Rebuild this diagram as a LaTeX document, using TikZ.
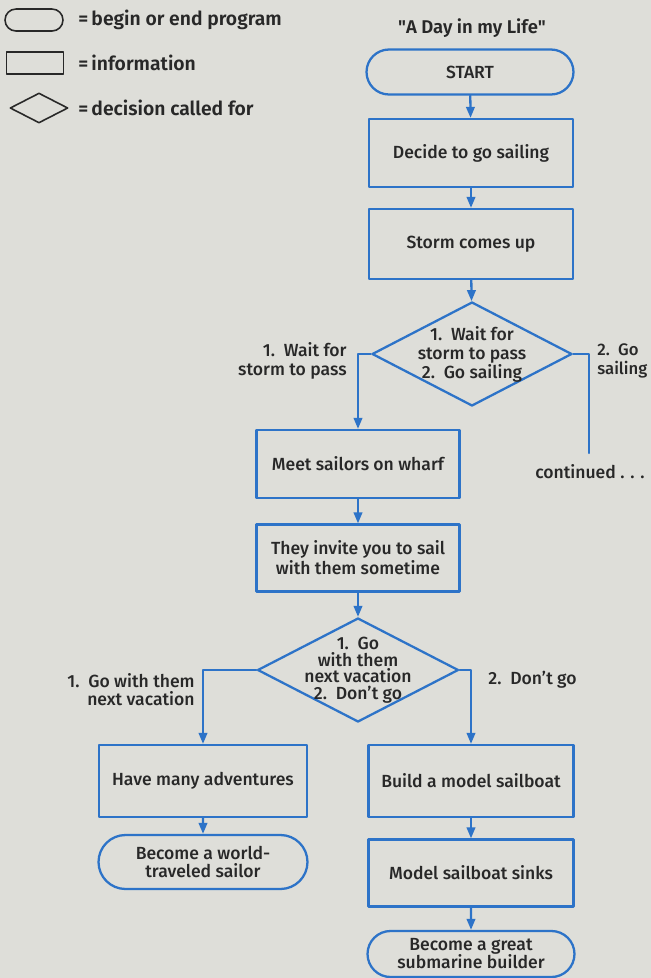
\documentclass[tikz,border=0pt]{standalone}
\usepackage{fontspec}
\setmainfont{Fira Sans}[UprightFont={* Medium},BoldFont={* SemiBold}]
\usetikzlibrary{shapes.geometric,shapes.misc,arrows.meta}

\definecolor{paper}{RGB}{222,222,217}
\definecolor{flowblue}{RGB}{45,115,200}
\definecolor{ink}{RGB}{40,40,40}

\tikzset{
  txt/.style={text=ink,font=\fontsize{10}{11.4}\selectfont,align=center},
  sidetxt/.style={txt,inner sep=0pt,font=\fontsize{10}{10.8}\selectfont},
  infobox/.style={txt,draw=flowblue,line width=1.3pt,inner sep=0pt,
    minimum width=4.08cm,minimum height=1.36cm},
  termbox/.style={infobox,rounded rectangle},
  decbox/.style={draw=flowblue,line width=1.3pt,diamond,inner sep=0pt,
    minimum width=4cm,minimum height=2.08cm},
  flow/.style={draw=flowblue,line width=1.3pt,
    -{Triangle[length=2.2mm,width=1.7mm]}},
  branch/.style={draw=flowblue,line width=1.3pt},
  keyshape/.style={draw=ink,line width=0.9pt,inner sep=0pt},
  keytxt/.style={text=ink,font=\fontsize{11}{13}\selectfont\bfseries,anchor=west,inner sep=0pt}
}

\begin{document}
\begin{tikzpicture}[line cap=round,line join=round,x=0.02cm,y=-0.02cm]
  \fill[paper] (0,0) rectangle (651,978);
  \useasboundingbox (0,0) rectangle (651,978);

  % legend
  \node[keyshape,rounded rectangle,minimum width=1.16cm,minimum height=0.44cm] (keyterm) at (34,20) {};
  \node[keytxt] (keytermtxt) at (78,20) {=\,begin or end program};
  \node[keyshape,rectangle,minimum width=1.14cm,minimum height=0.44cm] (keyinfo) at (35,63) {};
  \node[keytxt] (keyinfotxt) at (78,63) {=\,information};
  \node[keyshape,diamond,minimum width=1.16cm,minimum height=0.6cm] (keydec) at (39,108) {};
  \node[keytxt] (keydectxt) at (78,108) {=\,decision called for};

  % flowchart
  \node[txt,font=\fontsize{10.5}{12}\selectfont\bfseries] (title) at (472,28) {\textquotedbl A Day in my Life\textquotedbl};
  \node[termbox,minimum width=4.14cm,minimum height=0.9cm] (start) at (470,72) {START};
  \node[infobox] (decide) at (471,153) {Decide to go sailing};
  \node[infobox,minimum height=1.4cm] (storm) at (471,244) {Storm comes up};
  \node[decbox,label={[txt,font=\fontsize{10}{10.8}\selectfont]center:1.\enspace Wait for\\storm to pass\\2.\enspace Go sailing}] (dec1) at (472,354) {};
  \node[sidetxt,align=right,anchor=east] (waitlbl) at (347,361) {1.\enspace Wait for\\storm to pass};
  \node[sidetxt,align=left,anchor=west,font=\fontsize{9.5}{10.8}\selectfont] (golbl) at (597,361) {2.\enspace Go\\sailing};
  \coordinate (goend) at (589,453);
  \node[sidetxt] (cont) at (590,472) {continued . . .};

  \node[infobox,minimum width=4.06cm] (meet) at (358,464) {Meet sailors on wharf};
  \node[infobox,minimum width=4.06cm,minimum height=1.34cm] (invite) at (358,558) {They invite you to sail\\with them sometime};
  \node[decbox,minimum width=4.02cm,label={[txt,font=\fontsize{10}{9.4}\selectfont]center:1.\enspace Go\\with them\\next vacation\\2.\enspace Don’t go}] (dec2) at (358,670) {};
  \node[sidetxt,align=right,anchor=east,font=\fontsize{10}{10.2}\selectfont] (golbl2) at (195,690) {1.\enspace Go with them\\next vacation};
  \node[sidetxt,anchor=west] (nolbl) at (488,680) {2.\enspace Don’t go};

  \node[infobox,minimum width=4.16cm,minimum height=1.44cm] (adv) at (203,781) {Have many adventures};
  \node[termbox,minimum width=4.18cm,minimum height=1.08cm,font=\fontsize{10}{10.2}\selectfont] (world) at (203,862) {Become a world-\\traveled sailor};
  \node[infobox,minimum width=4.1cm,minimum height=1.44cm] (build) at (471,781) {Build a model sailboat};
  \node[infobox,minimum width=4.1cm,minimum height=1.34cm] (sinks) at (471,873) {Model sailboat sinks};
  \node[termbox,minimum width=4.14cm,minimum height=0.92cm,font=\fontsize{10}{10.2}\selectfont] (great) at (471,954) {Become a great\\submarine builder};

  % connectors
  \draw[flow] (start) -- (decide);
  \draw[flow] (decide) -- (storm);
  \draw[flow] (storm) -- (dec1);
  \draw[flow] (dec1.west) -| (meet.north);
  \draw[branch] (dec1.east) -| (goend);
  \draw[flow] (meet) -- (invite);
  \draw[flow] (invite) -- (dec2);
  \draw[flow] (dec2.west) -| (adv.north);
  \draw[flow] (dec2.east) -| (build.north);
  \draw[flow] (adv) -- (world);
  \draw[flow] (build) -- (sinks);
  \draw[flow] (sinks) -- (great);
\end{tikzpicture}
\end{document}
